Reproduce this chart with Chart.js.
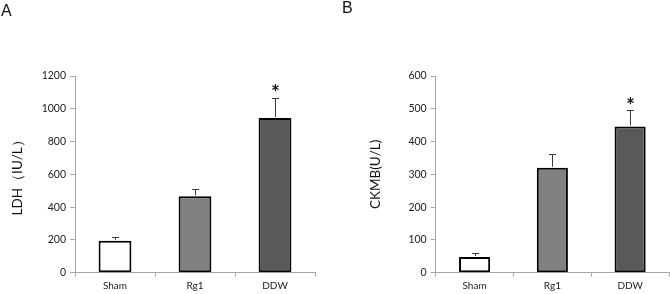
<!DOCTYPE html>
<html>
<head>
<meta charset="utf-8">
<script src="https://cdn.jsdelivr.net/npm/chart.js@4/dist/chart.umd.min.js"></script>
<style>
  html, body { margin: 0; padding: 0; background: #fff; }
  #wrap { position: relative; width: 670px; height: 294px; overflow: hidden; }
  .panel { position: absolute; top: 0; width: 335px; height: 294px; }
  .letter { position: absolute; font-family: "Liberation Sans", Arial, sans-serif; font-size: 16px; color: #111; }
</style>
</head>
<body>
<div id="wrap">
  <div class="panel" style="left:0"><canvas id="c1" width="335" height="294"></canvas></div>
  <div class="panel" style="left:335px"><canvas id="c2" width="335" height="294"></canvas></div>
  <div class="letter" style="left:1px; top:2px;">A</div>
  <div class="letter" style="left:342px; top:-1px;">B</div>
</div>
<script>
const categories = ["Sham", "Rg1", "DDW"];
const ldhMeans = [195, 466, 944];
const ldhErrors = [20, 47, 124];
const ckmbMeans = [48, 320, 446];
const ckmbErrors = [12, 41, 51];
const significant = [false, false, true];
const barColors = ["#ffffff", "#808080", "#595959"];

const FONT = "Lato, 'Open Sans', sans-serif";

const errorBarPlugin = {
  id: "errorBars",
  afterDatasetsDraw(chart, args, opts) {
    const ctx = chart.ctx;
    const meta = chart.getDatasetMeta(0);
    const ys = chart.scales.y;
    const means = opts.means, errs = opts.errors;
    ctx.save();
    meta.data.forEach((bar, i) => {
      const x = Math.round(bar.x) + 0.5;
      const yTop = ys.getPixelForValue(means[i]);
      const yErr = ys.getPixelForValue(means[i] + errs[i]);
      ctx.strokeStyle = "#3a3a3a";
      ctx.lineWidth = 1;
      ctx.beginPath();
      ctx.moveTo(x, yTop - 1);
      ctx.lineTo(x, Math.round(yErr) + 0.5);
      ctx.moveTo(x - 3.5, Math.round(yErr) + 0.5);
      ctx.lineTo(x + 3.5, Math.round(yErr) + 0.5);
      ctx.stroke();
      if (significant[i]) {
        ctx.fillStyle = "#111";
        ctx.font = "bold 21px " + FONT;
        ctx.textAlign = "center";
        ctx.textBaseline = "middle";
        ctx.fillText("*", x, yErr - 4);
      }
    });
    ctx.restore();
  }
};

function makeChart(id, means, errors, maxV, step, title, yWidth, titlePad, barPct, padRight) {
  return new Chart(document.getElementById(id), {
    type: "bar",
    data: {
      labels: categories,
      datasets: [{
        data: means,
        backgroundColor: barColors,
        borderColor: "#000",
        borderWidth: 2,
        borderSkipped: false,
        barPercentage: barPct,
        categoryPercentage: 1.0
      }]
    },
    options: {
      responsive: false,
      animation: false,
      events: [],
      layout: { padding: { top: 76, right: padRight, bottom: 0, left: 0 } },
      plugins: {
        legend: { display: false },
        tooltip: { enabled: false },
        errorBars: { means: means, errors: errors }
      },
      scales: {
        x: {
          grid: { display: true, drawOnChartArea: false, drawTicks: true, tickLength: 4, color: "#a6a6a6", offset: true },
          border: { display: true, color: "#a6a6a6", width: 1 },
          ticks: { color: "#222", font: { family: FONT, size: 10 }, padding: 3 },
          afterFit(s) { s.height = 21.3; }
        },
        y: {
          min: 0, max: maxV,
          grid: { display: true, drawOnChartArea: false, drawTicks: true, tickLength: 5, color: "#a6a6a6" },
          border: { display: true, color: "#a6a6a6", width: 1 },
          ticks: { stepSize: step, color: "#222", font: { family: FONT, size: 10.5 }, padding: 4,
                   callback: (v) => String(v) },
          title: { display: true, text: title, color: "#111", font: { family: FONT, size: 13.5 }, padding: { top: titlePad, bottom: 0 } },
          afterFit(s) { s.width = yWidth; }
        }
      }
    },
    plugins: [errorBarPlugin]
  });
}

makeChart("c1", ldhMeans, ldhErrors, 1200, 200, "LDH（IU/L）", 75, 10, 0.41, 20);
makeChart("c2", ckmbMeans, ckmbErrors, 600, 100, "CKMB(U/L)", 100.7, 33, 0.40, 1);
</script>
</body>
</html>
